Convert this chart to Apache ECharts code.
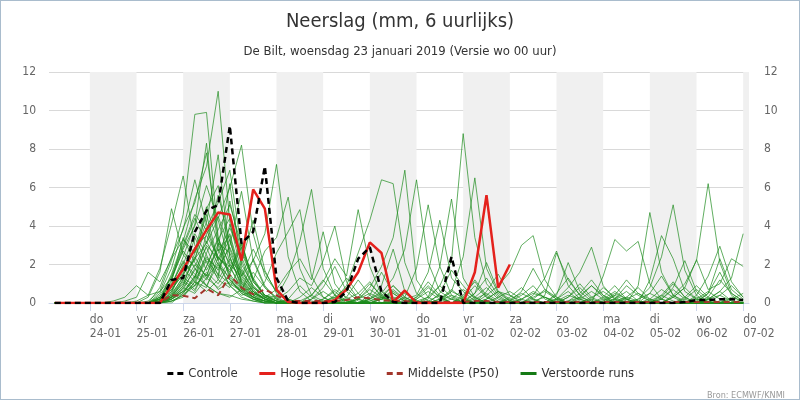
<!DOCTYPE html>
<html>
<head>
<meta charset="utf-8">
<script src="https://cdn.jsdelivr.net/npm/echarts@6/dist/echarts.min.js"></script>
<style>
html, body { margin: 0; padding: 0; background: #fff; }
#chart { width: 800px; height: 400px; box-sizing: border-box; border: 1px solid #a9bccd; }
</style>
</head>
<body>
<div id="chart"></div>
<script>
// 6-hourly steps, hours after 23-01 00 UTC
var startHour = 6, stepHours = 6;

var dayNames = ['do', 'vr', 'za', 'zo', 'ma', 'di', 'wo', 'do', 'vr', 'za', 'zo', 'ma', 'di', 'wo', 'do'];
var dayDates = ['24-01', '25-01', '26-01', '27-01', '28-01', '29-01', '30-01', '31-01',
	'01-02', '02-02', '03-02', '04-02', '05-02', '06-02', '07-02'];
var tickHours = [24, 48, 72, 96, 120, 144, 168, 192, 216, 240, 264, 288, 312, 336, 360];
var shadedDays = [24, 72, 120, 168, 216, 264, 312, 360];
var yTicks = [0, 2, 4, 6, 8, 10, 12];

var control = [0,0,0, 0,0,0,0, 0,0,0,1.2, 1.3,3.7,4.8,5.1, 9.2,3.1,3.7,7.1, 1.3,.1,0,0, 0,.05,.6,2.3, 2.9,.6,.05,0, 0,0,0,2.4, 0,0,0,0, 0,0,0,0, 0,0,0,0, 0,0,0,0, 0,0,0,.05, .15,.15,.2,.2, .15];
var hres = [0,0,0, 0,0,0,0, 0,0,0,.9, 1.75,2.8,3.8,4.7, 4.6,2.2,5.9,4.9, .7,.05,0,0, 0,.15,.7,1.6, 3.15,2.6,.05,.65, 0,0,0,0, 0,1.6,5.6,.8, 2.0];
var p50 = [0,0,0, 0,0,0,0, 0,0,0,.4, .38,.25,.75,.4, 1.45,.8,.45,.7, .4,.1,.1,.1, .1,.1,.15,.3, .25,.15,.1,.1, .05,.05,.05,.05, .05,.1,.1,.05, .05,.05,.05,.05, .05,.05,.05,.05, .05,.05,.05,.05, .05,.05,.05,.05, .05,.05,.05,.05, .05];

var run01 = [0,0,0, 0,0,0,0, 0,0,.2,1.5, 3.2,5.4,7.1,11, 4.2,1.6,.8,.3, .1,0,0,.2, .8,1.9,.6,.1, 0,0,.3,.1, 0,0,0,0, 0,.2,.5,.1, 0,0,0,0, 0,.1,.3,.1, 0,0,0,0, 0,.4,1.1,.3, 0,0,.1,0, 0];
var run02 = [0,0,0, 0,0,0,0, 0,.1,.6,2.2, 4.6,9.8,9.9,3.4, 1.2,.6,2.3,.9, .2,0,0,0, 0,0,.2,.5, 1.1,.3,0,0, 0,.1,.4,.2, 0,0,0,0, .3,.8,.2,0, 0,0,0,0, .1,.5,.2,0, 0,0,0,0, 0,.2,.6,.1, 0];
var run03 = [0,0,0, 0,0,0,0, 0,0,.3,.9, 2.4,4.1,8.3,2.7, 3.5,1.1,.4,.1, 0,0,.1,.4, 1.2,.4,0,0, .2,.9,2.8,.6, .1,0,0,0, .3,1.2,.4,0, 0,0,0,0, 0,0,0,0, 0,.2,.9,.4, .1,0,0,0, 0,0,0,.3, .1];
var run04 = [0,0,0, 0,0,0,0, 0,0,0,.4, 1.2,2.3,3.1,4.4, 6.0,8.2,3.6,1.4, .6,.2,0,0, 0,0,0,.2, .7,.3,.1,0, 0,0,.5,1.7, .9,.2,0,0, 0,0,0,0, .2,.6,.1,0, 0,0,0,0, 0,0,.3,.8, .2,0,0,0, 0];
var run05 = [0,0,0, 0,0,0,0, 0,0,.5,1.8, 3.9,5.2,7.8,3.3, 2.0,1.3,.5,.2, 0,0,0,0, .1,.3,.1,0, 0,0,0,0, .2,.6,.2,0, 0,0,0,0, 0,.2,.5,.3, .1,0,0,0, 0,0,0,0, .2,.7,.3,0, 0,0,0,0, 0];
var run06 = [0,0,0, 0,0,0,0, 0,0,0,.3, .9,2.6,4.2,7.7, 2.4,.9,.3,0, 0,.2,.9,.3, 0,0,0,0, .4,1.6,.5,.1, 0,0,0,0, 0,0,.6,1.5, .4,0,0,0, 0,0,0,0, .3,.9,.2,0, 0,0,0,0, 0,0,0,0, .2];
var run07 = [0,0,0, 0,0,0,0, 0,0,0,.2, .6,1.2,2.3,1.8, 2.9,1.4,2.2,3.6, 7.2,2.4,.6,.1, 0,0,0,0, .1,.3,.1,0, 0,0,.2,.6, .3,0,0,0, 0,0,0,0, .5,1.3,.4,0, 0,0,0,0, 0,0,0,0, .2,.6,.2,0, 0];
var run08 = [0,0,0, 0,0,0,0, .1,.4,1.8,4.1, 6.6,3.0,1.7,2.8, 1.4,.6,.2,0, 0,0,0,0, 0,.3,.8,.2, 0,0,0,0, 0,0,0,.2, .7,.3,0,0, 0,0,0,0, 0,0,0,0, 0,0,0,.2, .5,.2,0,0, 0,0,0,0, 0];
var run09 = [0,0,0, 0,0,0,0, 0,.3,1.6,4.9, 2.5,1.9,3.2,2.0, .9,.4,.6,.2, 0,0,0,0, .2,.6,.1,0, 0,0,0,0, .1,.3,.9,.3, 0,0,0,0, 0,0,.3,.6, .2,0,0,0, 0,0,0,0, 0,0,0,0, 0,.3,1.2,.5, .1];
var run10 = [0,0,0, 0,0,0,0, 0,0,.8,2.4, 3.8,6.4,4.1,2.2, 3.3,1.0,.3,.1, 0,0,0,0, 0,0,0,0, 0,.2,.7,.2, 0,0,0,0, 0,0,0,.3, .6,.2,0,0, 0,0,0,.2, .8,.3,0,0, 0,0,0,0, .1,0,0,0, 0];
var run11 = [0,0,0, 0,0,0,0, 0,0,0,.1, .4,1.1,.8,2.4, 1.6,3.1,1.2,2.7, 3.4,5.5,1.8,.4, .1,0,0,0, 0,0,0,0, .2,.8,.3,0, 0,0,0,0, 0,0,0,0, 0,.3,1.0,.3, 0,0,0,0, .1,.4,.1,0, 0,0,0,0, 0];
var run12 = [0,0,0, 0,0,0,0, 0,0,.2,.7, 1.5,3.4,2.1,1.3, 4.1,2.2,.8,.4, .3,1.4,3.2,5.9, 1.8,.4,.1,0, 0,0,0,0, 0,0,0,0, .4,1.1,.3,0, 0,0,0,0, 0,0,0,0, 0,.2,.6,.1, 0,0,0,0, 0,0,.4,.9, .3];
var run13 = [0,0,0, 0,0,0,0, 0,0,0,.5, 1.9,2.7,5.0,3.1, 1.5,.7,.3,1.1, 2.6,3.7,4.85,1.4, .3,0,0,0, 0,0,.2,.5, .1,0,0,0, 0,0,0,0, .1,.4,.9,.2, 0,0,0,0, 0,0,0,0, 0,.2,.7,.2, 0,0,0,0, 0];
var run14 = [0,0,0, 0,0,0,0, 0,0,.1,.9, 2.2,1.3,3.6,4.5, 2.8,1.1,.5,.3, .7,1.6,2.3,1.2, 3.7,1.0,.2,0, 0,0,0,0, 0,0,.1,.4, .2,0,0,0, 0,0,0,0, 0,.1,.5,1.2, .4,0,0,0, 0,0,0,0, 0,0,0,0, 0];
var run15 = [0,0,0, 0,0,0,0, 0,0,0,.2, .8,1.7,2.9,1.4, 5.3,2.6,1.2,.4, .2,.6,1.3,.9, 2.2,4.0,1.1,.2, 0,0,0,0, 0,0,0,0, 0,.5,2.1,.6, .1,0,0,0, 0,0,0,0, 0,0,.3,.8, .2,0,0,0, 0,0,0,0, 0];
var run16 = [0,0,0, 0,0,0,0, 0,0,.4,1.3, 2.9,4.4,3.1,5.6, 3.2,1.5,.6,.2, 0,0,0,.4, 1.1,2.3,1.4,4.85, 1.9,.4,0,0, 0,0,0,0, 0,0,0,0, 0,0,.2,.7, .3,0,0,0, 0,0,0,0, 0,0,0,.3, .9,.3,0,0, 0];
var run17 = [0,0,0, 0,0,0,0, 0,0,0,.3, 1.1,.6,1.9,3.3, 4.4,2.0,.9,.3, 0,0,0,0, 0,.2,.9,2.6, 4.3,6.4,6.2,2.1, .5,.1,0,0, 0,0,0,0, 0,0,0,0, 0,0,.2,.6, .2,0,0,0, 0,0,0,0, 0,0,0,0, 0];
var run18 = [0,0,0, 0,0,0,0, 0,0,.2,.8, 1.6,2.2,4.9,6.1, 2.4,.8,.3,.1, 0,0,0,0, 0,0,0,.2, .8,1.9,3.4,6.9, 1.2,.3,0,0, 0,0,.2,.6, .2,0,0,0, 0,0,0,0, 0,0,0,0, .5,1.4,.4,0, 0,0,0,0, 0];
var run19 = [0,0,0, 0,0,0,0, 0,0,0,0, .5,1.4,2.4,1.7, 3.0,5.8,2.2,.8, .3,0,0,0, 0,0,0,0, .2,.5,1.3,2.8, 6.4,2.1,.6,.2, 0,0,0,0, 0,0,0,0, 0,.3,.8,.2, 0,0,0,0, 0,0,0,0, .1,.5,2.3,.7, .2];
var run20 = [0,0,0, 0,0,0,0, 0,0,.3,1.1, 3.4,2.1,1.4,2.9, 6.2,1.8,.7,.2, 0,0,0,0, .2,.7,.3,0, 0,0,0,.3, 1.8,5.1,1.9,.4, 0,0,0,0, 0,0,0,0, 0,0,0,0, .2,.6,.2,0, 0,0,0,0, 0,0,0,.2, .5];
var run21 = [0,0,0, 0,0,0,0, 0,0,0,.6, 2.0,3.6,2.5,1.2, .8,2.1,4.3,1.7, .5,.1,0,0, 0,0,0,0, 0,.2,.6,.2, .4,1.6,4.3,1.3, .6,.1,0,0, 0,0,.1,.3, 0,0,0,0, 0,0,0,0, 0,.2,.8,2.2, .6,0,0,0, 0];
var run22 = [0,0,0, 0,0,0,0, 0,0,.1,.5, 1.3,.9,2.6,3.8, 5.1,3.0,1.3,.4, .1,0,0,0, 0,0,0,.3, 1.0,.4,0,0, 0,.3,1.9,5.4, 1.3,.3,0,0, 0,0,0,0, 0,0,0,0, 0,0,.2,.5, .2,0,0,0, 0,0,0,0, 0];
var run23 = [0,0,0, 0,0,0,0, 0,0,0,.3, .9,2.0,1.4,3.1, 2.6,1.2,.5,.2, 0,0,.3,.8, .3,0,0,0, 0,0,0,0, 0,.2,.9,2.2, 8.8,3.4,1.0,.3, 0,0,0,0, 0,0,0,0, 0,0,0,0, 0,.3,1.0,.3, 0,0,0,0, 0];
var run24 = [0,0,0, 0,0,0,0, 0,0,.2,1.4, 3.0,4.6,3.8,2.3, 1.9,.7,.2,0, 0,0,0,0, 0,0,.3,1.2, .4,0,0,0, 0,0,.1,.6, 2.4,6.5,1.8,.5, .1,0,0,0, 0,0,0,0, 0,0,0,0, 0,0,0,.2, .7,.2,0,0, 0];
var run25 = [0,0,0, 0,0,0,0, 0,0,0,.4, 1.4,2.9,3.5,2.4, 1.7,3.2,1.1,.4, .1,0,0,0, 0,0,0,0, 0,.3,.9,.3, 0,0,0,0, 0,0,.4,.9, 1.6,3.0,3.5,1.2, .3,0,0,0, 0,0,0,0, 0,0,0,0, 0,.2,.4,.1, 0];
var run26 = [0,0,0, 0,0,0,0, 0,0,.1,.3, .7,1.8,1.2,2.6, 3.9,2.4,.9,.3, .1,0,0,0, 0,0,0,0, 0,0,0,0, .3,1.1,.4,0, 0,0,0,0, 0,0,.4,1.3, 2.7,.9,.2,0, 0,.4,1.2,.5, .1,0,0,0, 0,0,0,0, 0];
var run27 = [0,0,0, 0,0,0,0, 0,0,0,.2, .6,.9,1.6,1.0, 2.0,1.4,2.8,1.6, .6,.2,0,0, 0,0,0,0, 0,0,0,0, 0,0,0,0, .2,.9,.3,0, 0,0,0,0, .2,.8,1.6,2.9, .9,.2,0,0, 0,0,0,0, 0,0,0,0, 0];
var run28 = [0,0,0, 0,0,0,0, 0,0,0,.1, .3,1.1,2.2,1.5, 1.0,.6,.3,.1, 0,0,0,.2, .6,.2,0,0, 0,0,0,0, 0,0,0,0, 0,0,0,0, 0,.2,.6,.3, 0,0,0,0, 1.4,3.3,2.7,3.2, 1.0,.2,0,0, 0,0,0,0, 0];
var run29 = [0,0,0, 0,0,0,0, 0,0,.3,1.0, 2.1,1.5,.9,2.0, 1.3,.5,.2,0, 0,0,0,0, 0,0,0,0, 0,0,0,0, 0,0,.2,.7, .2,0,0,0, 0,0,0,0, 0,0,0,.3, .6,.2,0,.9, 4.7,1.6,.4,.1, 0,0,0,0, 0];
var run30 = [0,0,0, 0,0,0,0, 0,0,0,.2, .5,1.3,3.0,2.3, 3.6,1.4,.6,.2, 0,0,0,0, 0,0,0,0, .2,.6,.2,0, 0,0,0,0, 0,.3,.8,.2, 0,0,0,0, 0,0,0,0, 0,0,0,.2, .8,2.4,5.1,1.7, .4,0,0,0, 0];
var run31 = [0,0,0, 0,0,0,0, 0,0,.1,.4, 1.0,2.4,1.3,.8, 1.5,2.9,1.2,.4, .1,0,0,0, 0,0,0,0, 0,0,0,0, 0,0,0,0, 0,0,0,0, 0,0,0,0, .1,.4,.2,0, 0,0,0,0, 1.2,3.5,2.3,.6, .2,0,0,0, 0];
var run32 = [0,0,0, 0,0,0,0, 0,0,0,.3, 1.2,.7,1.9,3.4, 1.9,.8,.3,.1, 0,0,0,0, 0,0,0,0, 0,0,0,0, 0,0,0,0, 0,0,0,0, .2,.5,.2,0, 0,0,0,0, 0,0,0,0, 0,0,.4,1.0, 2.2,6.2,2.1,.5, .1];
var run33 = [0,0,0, 0,0,0,0, 0,0,.2,.6, 1.8,1.1,.6,1.2, 2.3,1.0,.4,.2, 0,0,0,0, 0,0,0,0, 0,0,0,0, 0,0,0,0, .1,.5,1.3,.4, 0,0,0,0, 0,0,0,0, 0,0,0,0, 0,0,0,0, .4,1.4,2.95,1.1, .3];
var run34 = [0,0,0, 0,0,0,0, 0,0,0,.1, .4,.9,1.5,.7, 1.1,.6,.8,.3, 0,0,0,0, 0,0,0,0, 0,.2,.5,.1, 0,0,0,0, 0,0,0,0, 0,0,0,0, 0,0,0,0, 0,.1,.3,.1, 0,0,0,0, 0,.2,.6,1.3, 3.6];
var run35 = [0,0,0, 0,0,0,0, 0,0,.1,.2, .8,.5,1.3,2.1, .9,.3,.1,0, 0,0,0,0, 0,0,0,0, 0,0,0,0, 0,0,0,0, 0,0,.2,.6, .4,.1,0,0, 0,0,0,0, 0,0,0,0, 0,0,.3,.8, 2.25,.7,1.0,2.3, 1.9];
var run36 = [0,0,0, 0,0,0,0, 0,0,0,.3, .6,1.4,.9,.5, .3,.7,1.6,.8, .2,0,0,0, 0,0,0,0, 0,0,0,0, 0,0,0,0, 0,0,0,0, 0,0,0,.4, 2.6,1.2,.4,.9, .4,.1,0,0, 0,0,0,0, 0,0,0,0, 0];
var run37 = [0,0,0, 0,0,.1,.3, .9,.4,.6,1.3, 2.7,1.8,.9,.5, .4,.2,.1,0, 0,0,0,0, 0,.4,1.3,.5, 0,0,0,0, 0,0,0,0, 0,0,0,0, .1,.6,1.8,.7, .2,0,0,0, 0,0,0,0, 0,0,0,0, 0,0,0,0, 0];
var run38 = [0,0,0, 0,0,0,.1, .3,1.6,1.1,2.3, 3.3,2.6,4.6,2.2, 1.2,.5,.2,.1, 0,0,0,0, 0,0,0,0, .1,.4,.9,.3, 0,0,0,0, 0,0,0,0, 0,0,0,0, .4,2.1,.6,.1, 0,0,0,0, 0,0,0,0, .3,.1,0,0, 0];
var run39 = [0,0,0, 0,0,0,0, 0,0,.2,.7, 1.5,2.3,3.9,5.2, 6.9,2.8,1.1,.4, .1,0,0,0, 0,0,0,0, 0,0,0,0, .3,.9,.3,0, 0,0,0,0, 0,0,0,0, 0,0,0,0, .1,.4,.1,0, 0,0,0,0, 0,.5,1.6,.4, 0];
var run40 = [0,0,0, 0,0,0,0, 0,0,.1,1.2, 2.8,4.0,6.1,4.3, 2.1,1.7,.6,.2, 0,0,0,0, 0,0,0,.2, .5,.2,0,0, 0,0,0,0, 0,0,0,0, 0,0,0,0, 0,0,.3,.9, .3,0,0,0, 0,0,0,0, 0,0,0,0, 0];

var perturbedRuns = [run01, run02, run03, run04, run05, run06, run07, run08, run09, run10,
	run11, run12, run13, run14, run15, run16, run17, run18, run19, run20,
	run21, run22, run23, run24, run25, run26, run27, run28, run29, run30,
	run31, run32, run33, run34, run35, run36, run37, run38, run39, run40];

var FONT = '"DejaVu Sans Condensed", "DejaVu Sans", sans-serif';
var xMin = 3, xMax = 363;
var gridLeft = 48;

function toPoints(values) {
	return values.map(function (v, i) {
		return [startHour + i * stepHours, v];
	});
}

var bands = shadedDays.map(function (d) {
	return [ { xAxis : d }, { xAxis : Math.min(d + 24, xMax) } ];
});

var series = [ {
	name : 'dagen',
	type : 'line',
	data : [],
	silent : true,
	markArea : {
		silent : true,
		itemStyle : { color : '#f0f0f0' },
		data : bands
	}
} ];

perturbedRuns.forEach(function (run) {
	series.push({
		name : 'Verstoorde runs',
		type : 'line',
		data : toPoints(run),
		symbol : 'none',
		silent : true,
		z : 2,
		lineStyle : { color : '#1e8c1e', width : 1, opacity : 0.7 },
		itemStyle : { color : '#1e8c1e' }
	});
});

series.push({
	name : 'Middelste (P50)',
	type : 'line',
	data : toPoints(p50),
	symbol : 'none',
	z : 3,
	lineStyle : { color : '#a3362b', width : 2, type : [6, 4] },
	itemStyle : { color : '#a3362b' }
}, {
	name : 'Hoge resolutie',
	type : 'line',
	data : toPoints(hres),
	symbol : 'none',
	z : 4,
	lineStyle : { color : '#e4211c', width : 2.5 },
	itemStyle : { color : '#e4211c' }
}, {
	name : 'Controle',
	type : 'line',
	data : toPoints(control),
	symbol : 'none',
	z : 5,
	lineStyle : { color : '#000', width : 2.5, type : [6, 4] },
	itemStyle : { color : '#000' }
});

var chart = echarts.init(document.getElementById('chart'));
chart.setOption({
	animation : false,
	textStyle : { fontFamily : FONT },
	title : [ {
		text : 'Neerslag (mm, 6 uurlijks)',
		left : 'center',
		top : 6,
		textStyle : { fontFamily : FONT, fontSize : 20, fontWeight : 'normal', color : '#333' }
	}, {
		text : 'De Bilt, woensdag 23 januari 2019 (Versie wo 00 uur)',
		left : 'center',
		top : 39,
		textStyle : { fontFamily : FONT, fontSize : 13, fontWeight : 'normal', color : '#333' }
	}, {
		text : 'Bron: ECMWF/KNMI',
		right : 9,
		top : 385,
		textStyle : { fontFamily : FONT, fontSize : 9, fontWeight : 'normal', color : '#999' }
	} ],
	grid : {
		left : gridLeft,
		right : 50,
		top : 71,
		bottom : 96,
		containLabel : false
	},
	legend : {
		top : 361,
		left : 'center',
		itemWidth : 16,
		itemHeight : 10,
		itemGap : 20,
		itemStyle : { color : 'rgba(0,0,0,0)', borderWidth : 0 },
		textStyle : { fontFamily : FONT, fontSize : 13, color : '#333' },
		data : [
			{ name : 'Controle', lineStyle : { width : 3 } },
			{ name : 'Hoge resolutie', lineStyle : { width : 3 } },
			{ name : 'Middelste (P50)', lineStyle : { width : 3 } },
			{ name : 'Verstoorde runs', lineStyle : { width : 3, opacity : 1, color : '#157a15' } }
		]
	},
	xAxis : {
		type : 'value',
		min : xMin,
		max : xMax,
		axisLine : { show : true, onZero : false, lineStyle : { color : '#ccd6eb' } },
		axisTick : { show : true, customValues : tickHours, length : 8, lineStyle : { color : '#ccd6eb' } },
		axisLabel : {
			customValues : tickHours,
			align : 'left',
			margin : 10,
			color : '#666',
			fontSize : 12,
			lineHeight : 14,
			fontFamily : FONT,
			formatter : function (v) {
				var i = tickHours.indexOf(v);
				return i < 0 ? '' : dayNames[i] + '\n' + dayDates[i];
			}
		},
		splitLine : { show : false }
	},
	yAxis : [ {
		type : 'value',
		min : 0,
		max : 12,
		interval : 2,
		position : 'left',
		axisLine : { show : false, onZero : false },
		axisTick : { show : false },
		axisLabel : { show : false },
		splitLine : { lineStyle : { color : '#d9d9d9' } }
	}, {
		type : 'value',
		min : 0,
		max : 12,
		interval : 2,
		position : 'right',
		axisLine : { show : false, onZero : false },
		axisTick : { show : false },
		axisLabel : { color : '#666', fontSize : 12, margin : 15, fontFamily : FONT },
		splitLine : { show : false }
	} ],
	series : series
});

// left-hand tick labels, placed through the y scale
chart.setOption({
	graphic : yTicks.map(function (v) {
		return {
			type : 'text',
			x : gridLeft - 13,
			y : chart.convertToPixel({ yAxisIndex : 0 }, v),
			silent : true,
			style : {
				text : String(v),
				fill : '#666',
				font : '12px ' + FONT,
				textAlign : 'right',
				textVerticalAlign : 'middle'
			}
		};
	})
});
</script>
</body>
</html>
